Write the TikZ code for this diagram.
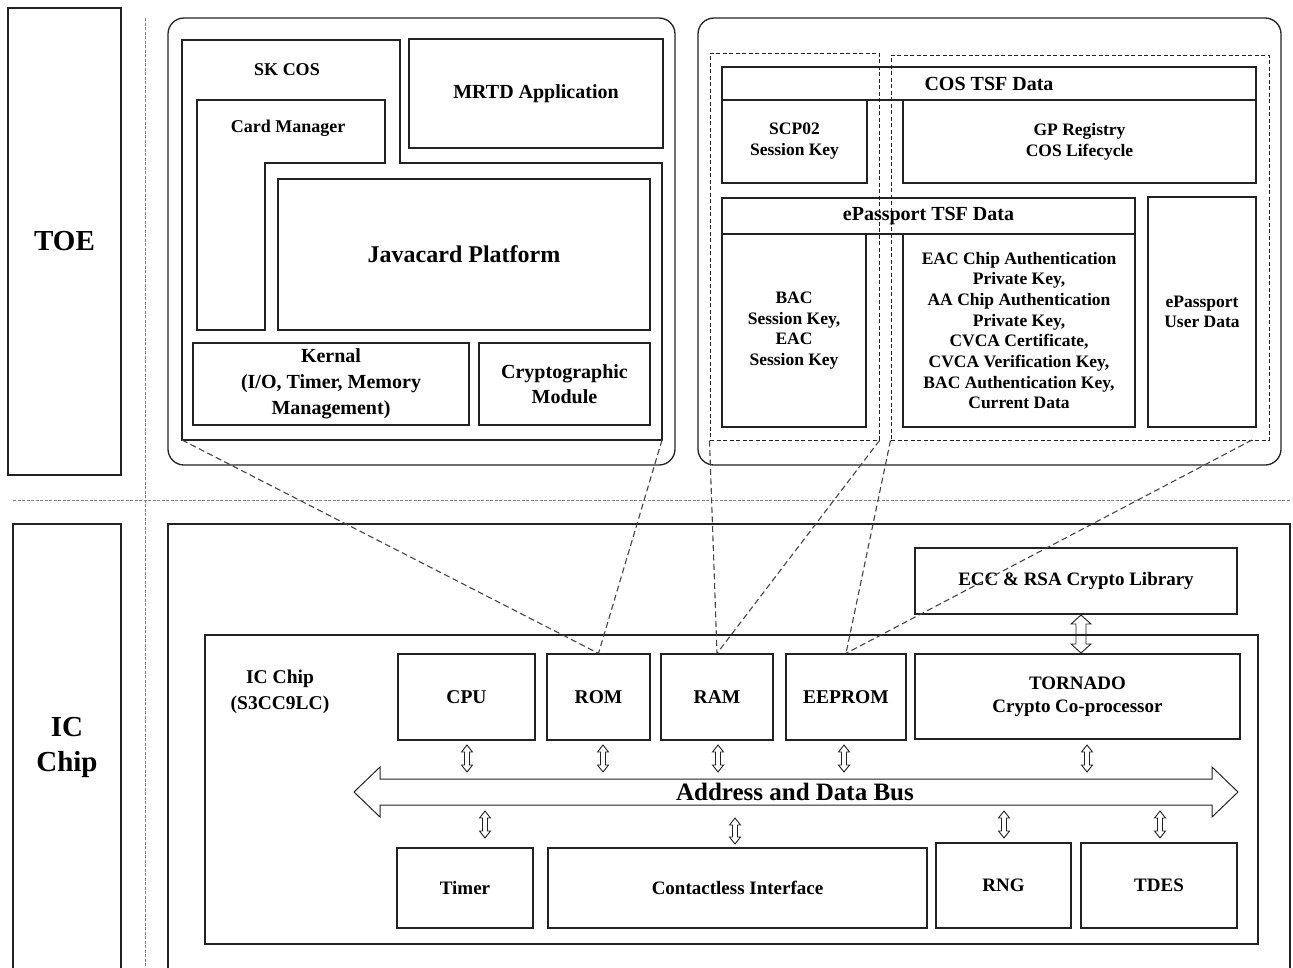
\documentclass[tikz,border=0pt]{standalone}
\usepackage{fontspec}
\setmainfont{Liberation Serif}
\usetikzlibrary{fit,calc}
\definecolor{ln}{HTML}{222222}
\definecolor{dl}{HTML}{444444}
\tikzset{
  box/.style={draw=ln, line width=1.3pt, inner sep=0pt},
  outline/.style={draw=ln, line width=1.3pt},
  dbox/.style={draw=ln, line width=1pt, dash pattern=on 4pt off 2.5pt, inner sep=0pt},
  rbox/.style={draw=ln, line width=1.3pt, rounded corners=16pt, inner sep=0pt},
  conn/.style={draw=dl, line width=1.1pt, dash pattern=on 6pt off 3.5pt},
  divline/.style={draw=gray, line width=0.9pt, dash pattern=on 3pt off 1.5pt},
  arr/.style={draw=ln, line width=0.9pt, line join=miter},
  lbl/.style={align=center, inner sep=0pt, text=black},
}
\newcommand\fsz[2]{\fontsize{#1}{#2}\selectfont\bfseries}
\newcommand\tbox[7]{%
  \node (#1) [box, fit={(#2,#3) (#4,#5)}] {};
  \node (#1-t) [lbl, font=#6] at (#1.center) {#7};}
\newcommand\dblarrow[6]{%
  \draw[arr] (#1,#2) -- (#1+#4,#2+#6) -- (#1+#5,#2+#6) -- (#1+#5,#3-#6) -- (#1+#4,#3-#6) -- (#1,#3)
    -- (#1-#4,#3-#6) -- (#1-#5,#3-#6) -- (#1-#5,#2+#6) -- (#1-#4,#2+#6) -- cycle;}
\begin{document}
\begin{tikzpicture}[x=1pt,y=-1pt]
\useasboundingbox (0,0) rectangle (1293,967);
\clip (0,0) rectangle (1293,967);

% ---------- left column ----------
\tbox{toe}{8}{8}{121}{475}{\fsz{29}{34}}{TOE}
\node (icside) [box, fit={(13,524) (121,980)}] {};
\node (iclabel) [lbl, font=\fsz{29}{35}] at (67,747) {IC\\Chip};
\draw[divline] (145,18) -- (145,967);
\draw[divline] (13,500) -- (1290,500);

% ---------- top left: COS ----------
\node (cosframe) [rbox, fit={(168,18) (675,465)}] {};
\draw[outline] (182,40) -- (400,40) -- (400,163) -- (662,163) -- (662,440) -- (182,440) -- cycle;
\coordinate (skbl) at (182,440);
\coordinate (skbr) at (662,440);
\node (skcos) [lbl, font=\fsz{18}{21}] at (287,70) {SK COS};
\draw[outline] (197,100) -- (385,100) -- (385,163) -- (265,163) -- (265,330) -- (197,330) -- cycle;
\node (cardmgr) [lbl, font=\fsz{18}{21}] at (288,128) {Card Manager};
\tbox{mrtd}{409}{39}{663}{148}{\fsz{20}{24}}{MRTD Application}
\tbox{jcp}{278}{179}{650}{330}{\fsz{24}{28}}{Javacard Platform}
\tbox{kernal}{193}{343}{469}{425}{\fsz{20}{26}}{Kernal\\(I/O, Timer, Memory\\Management)}
\tbox{cryptomod}{479}{343}{650}{425}{\fsz{20}{25}}{Cryptographic\\Module}

% ---------- top right: data ----------
\node (dataframe) [rbox, fit={(698,18) (1281,465)}] {};
\node (db1) [dbox, fit={(710,53) (879,440)}] {};
\node (db2) [dbox, fit={(891,55) (1269,440)}] {};
\coordinate (db2e) at (1252,440);
\tbox{costsf}{722}{67}{1256}{100}{\fsz{20}{24}}{COS TSF Data}
\tbox{scp}{722}{100}{867}{183}{\fsz{17.5}{21}}{SCP02\\Session Key}
\tbox{gp}{903}{100}{1256}{183}{\fsz{17.5}{21}}{GP Registry\\COS Lifecycle}
\tbox{eptsf}{722}{198}{1135}{234}{\fsz{20}{24}}{ePassport TSF Data}
\tbox{bac}{722}{234}{866}{427}{\fsz{17.5}{20.7}}{BAC\\Session Key,\\EAC\\Session Key}
\tbox{eac}{903}{234}{1135}{427}{\fsz{17.5}{20.7}}{EAC Chip Authentication\\Private Key,\\AA Chip Authentication\\Private Key,\\CVCA Certificate,\\CVCA Verification Key,\\BAC Authentication Key,\\Current Data}
\tbox{user}{1148}{197}{1256}{427}{\fsz{17.5}{20.5}}{ePassport\\User Data}

% ---------- bottom: IC chip ----------
\node (icframe) [box, fit={(168,524) (1290,980)}] {};
\tbox{ecc}{915}{548}{1237}{614}{\fsz{19}{23}}{ECC \& RSA Crypto Library}
\node (chip) [box, fit={(205,635) (1258,944)}] {};
\node (chiplabel) [lbl, font=\fsz{19.5}{26}] at (280,692) {IC Chip\\(S3CC9LC)};
\tbox{cpu}{398}{654}{535}{740}{\fsz{19.5}{23}}{CPU}
\tbox{rom}{547}{654}{650}{740}{\fsz{19.5}{23}}{ROM}
\tbox{ram}{661}{654}{773}{740}{\fsz{19.5}{23}}{RAM}
\tbox{eeprom}{786}{654}{906}{740}{\fsz{19.5}{23}}{EEPROM}
\tbox{tornado}{915}{654}{1240}{739}{\fsz{19}{23}}{TORNADO\\Crypto Co-processor}
\tbox{timer}{397}{848}{533}{928}{\fsz{19}{23}}{Timer}
\tbox{contactless}{548}{848}{927}{928}{\fsz{19}{23}}{Contactless Interface}
\tbox{rng}{936}{843}{1071}{928}{\fsz{19}{23}}{RNG}
\tbox{tdes}{1081}{843}{1237}{928}{\fsz{19}{23}}{TDES}

% bus
\draw[arr, line width=1pt] (354,792) -- (380,767) -- (380,779) -- (1212,779) -- (1212,767) -- (1238,792)
   -- (1212,817) -- (1212,805) -- (380,805) -- (380,817) -- cycle;
\node (bus) [lbl, font=\fsz{25}{28}] at (795,792) {Address and Data Bus};

% small double arrows
\dblarrow{467}{745}{772}{5.5}{2.5}{7}
\dblarrow{603}{745}{772}{5.5}{2.5}{7}
\dblarrow{718}{745}{772}{5.5}{2.5}{7}
\dblarrow{844}{745}{772}{5.5}{2.5}{7}
\dblarrow{1087}{745}{772}{5.5}{2.5}{7}
\dblarrow{485}{811}{838}{5.5}{2.5}{7}
\dblarrow{735}{818}{844}{5.5}{2.5}{7}
\dblarrow{1004}{811}{838}{5.5}{2.5}{7}
\dblarrow{1160}{811}{838}{5.5}{2.5}{7}
\dblarrow{1081}{615}{653}{10}{5}{9}

% dashed connectors
\draw[conn] (skbl) -- (rom.north);
\draw[conn] (skbr) -- (rom.north);
\draw[conn] (db1.south west) -- (ram.north);
\draw[conn] (db1.south east) -- (ram.north);
\draw[conn] (db2.south west) -- (eeprom.north);
\draw[conn] (db2e) -- (eeprom.north);
\end{tikzpicture}
\end{document}
